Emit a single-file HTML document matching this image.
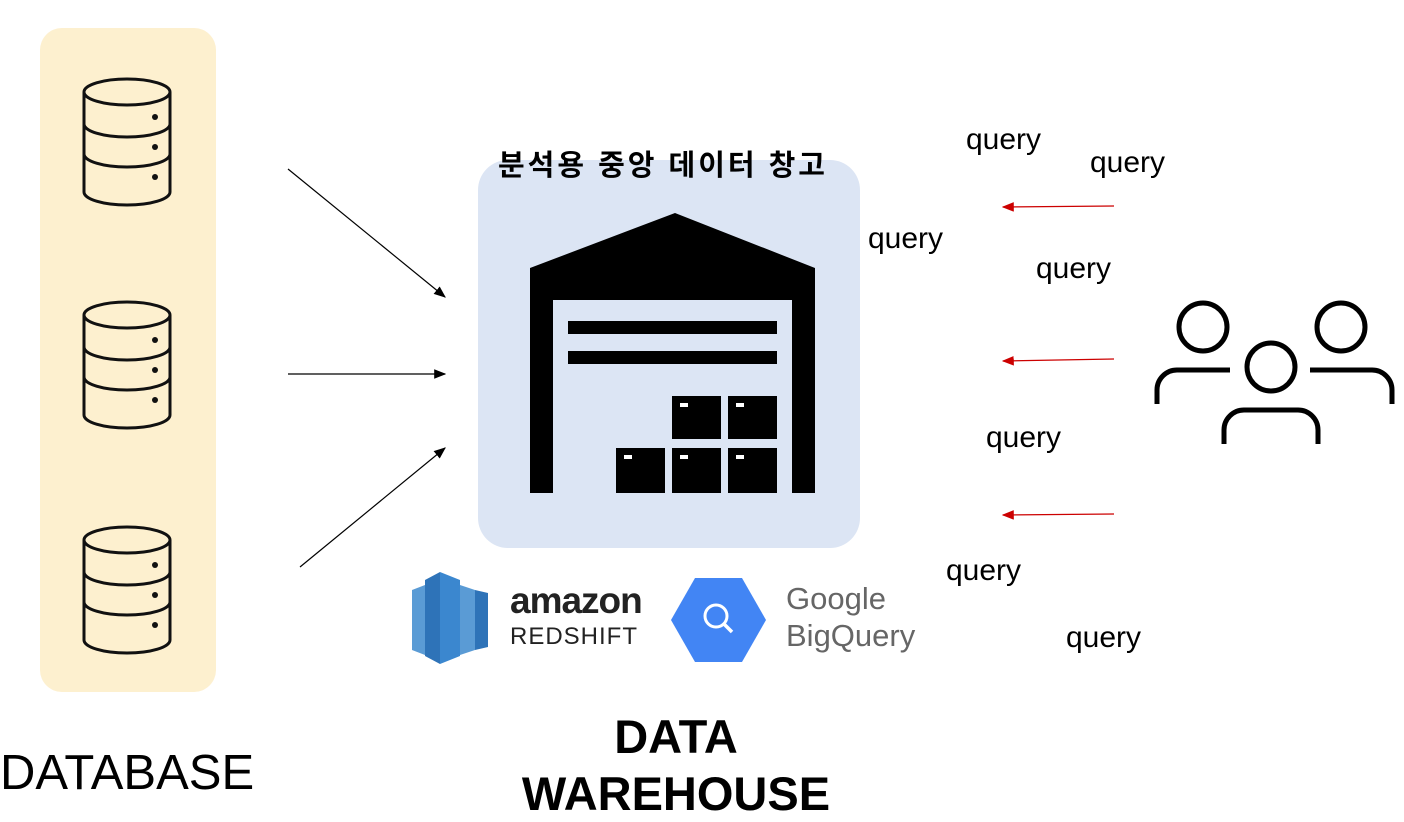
<!DOCTYPE html>
<html><head><meta charset="utf-8"><style>
body{margin:0;width:1404px;height:821px;background:#fff;position:relative;overflow:hidden;font-family:"Liberation Sans","Noto Sans CJK KR",sans-serif}
.t{position:absolute;white-space:nowrap}
.q{font-size:30px;color:#000}
</style></head><body>
<svg width="1404" height="821" style="position:absolute;left:0;top:0">
<defs>
<marker id="ak" markerWidth="10" markerHeight="8" refX="9" refY="4" orient="auto"><path d="M0,0L10,4L0,8z" fill="#000"/></marker>
<marker id="ar" markerWidth="10" markerHeight="8" refX="9" refY="4" orient="auto"><path d="M0,0L10,4L0,8z" fill="#c00"/></marker>
<g id="db" fill="none" stroke="#111" stroke-width="3">
<ellipse cx="0" cy="0" rx="43" ry="13"/>
<path d="M-43,0V100A43,13 0 0 0 43,100V0"/>
<path d="M-43,32A43,13 0 0 0 43,32M-43,62A43,13 0 0 0 43,62"/>
<circle cx="28" cy="25" r="3" fill="#111" stroke="none"/>
<circle cx="28" cy="55" r="3" fill="#111" stroke="none"/>
<circle cx="28" cy="85" r="3" fill="#111" stroke="none"/>
</g>
</defs>
<rect x="40" y="28" width="176" height="664" rx="22" fill="#fdf0cf"/>
<use href="#db" x="127" y="92"/>
<use href="#db" x="127" y="315"/>
<use href="#db" x="127" y="540"/>
<line x1="288" y1="169" x2="445" y2="297" stroke="#000" stroke-width="1.2" marker-end="url(#ak)"/>
<line x1="288" y1="374" x2="445" y2="374" stroke="#000" stroke-width="1.2" marker-end="url(#ak)"/>
<line x1="300" y1="567" x2="445" y2="448" stroke="#000" stroke-width="1.2" marker-end="url(#ak)"/>
<rect x="478" y="160" width="382" height="388" rx="30" fill="#dce5f4"/>
<path d="M530,268L675,213L815,268V493H792V300H553V493H530Z" fill="#000"/>
<rect x="568" y="321" width="209" height="13" fill="#000"/>
<rect x="568" y="351" width="209" height="13" fill="#000"/>
<g fill="#000">
<rect x="672" y="396" width="49" height="43"/><rect x="728" y="396" width="49" height="43"/>
<rect x="616" y="448" width="49" height="45"/><rect x="672" y="448" width="49" height="45"/><rect x="728" y="448" width="49" height="45"/>
</g>
<g fill="#fff"><rect x="680" y="403" width="8" height="4"/><rect x="736" y="403" width="8" height="4"/><rect x="624" y="455" width="8" height="4"/><rect x="680" y="455" width="8" height="4"/><rect x="736" y="455" width="8" height="4"/></g>
<line x1="1114" y1="206" x2="1003" y2="207" stroke="#c00" stroke-width="1.2" marker-end="url(#ar)"/>
<line x1="1114" y1="359" x2="1003" y2="361" stroke="#c00" stroke-width="1.2" marker-end="url(#ar)"/>
<line x1="1114" y1="514" x2="1003" y2="515" stroke="#c00" stroke-width="1.2" marker-end="url(#ar)"/>
<g fill="none" stroke="#000" stroke-width="5">
<circle cx="1203" cy="327" r="24"/><path d="M1157,404V390A20,20 0 0 1 1177,370H1230"/>
<circle cx="1341" cy="327" r="24"/><path d="M1392,404V390A20,20 0 0 0 1372,370H1310"/>
<circle cx="1271" cy="367" r="24"/><path d="M1224,444V430A20,20 0 0 1 1244,410H1298A20,20 0 0 1 1318,430V444"/>
</g>
<g>
<path d="M412,590L425,585V655L412,650Z" fill="#5a9bd5"/>
<path d="M425,580L440,572V664L425,656Z" fill="#2e73b8"/>
<path d="M440,572L460,580V656L440,664Z" fill="#3b87cf"/>
<path d="M460,585L475,590V650L460,655Z" fill="#5a9bd5"/>
<path d="M475,590L488,593V647L475,650Z" fill="#2e73b8"/>
</g>
<path d="M695,578L742,578L766,620L742,662L695,662L671,620Z" fill="#4285f4"/>
<circle cx="716" cy="616" r="11" fill="none" stroke="#fff" stroke-width="3"/>
<line x1="724" y1="624" x2="732" y2="632" stroke="#fff" stroke-width="3.5"/>
</svg>
<div class="t" style="left:498px;top:142px;font-size:29px;font-weight:bold;letter-spacing:3px">분석용 중앙 데이터 창고</div>
<div class="t" style="left:510px;top:580px;font-size:37px;font-weight:bold;color:#222;letter-spacing:-1px">amazon</div>
<div class="t" style="left:510px;top:623px;font-size:24px;color:#222;letter-spacing:1px">REDSHIFT</div>
<div class="t" style="left:786px;top:581px;font-size:31px;color:#666">Google</div>
<div class="t" style="left:786px;top:618px;font-size:31px;color:#666">BigQuery</div>
<div class="t q" style="left:966px;top:123px">query</div>
<div class="t q" style="left:1090px;top:146px">query</div>
<div class="t q" style="left:868px;top:222px">query</div>
<div class="t q" style="left:1036px;top:252px">query</div>
<div class="t q" style="left:986px;top:421px">query</div>
<div class="t q" style="left:946px;top:554px">query</div>
<div class="t q" style="left:1066px;top:621px">query</div>
<div class="t" style="left:0;top:745px;font-size:49px">DATABASE</div>
<div class="t" style="left:476px;top:708px;width:400px;text-align:center;font-size:47px;font-weight:bold;line-height:57px">DATA<br>WAREHOUSE</div>
</body></html>
